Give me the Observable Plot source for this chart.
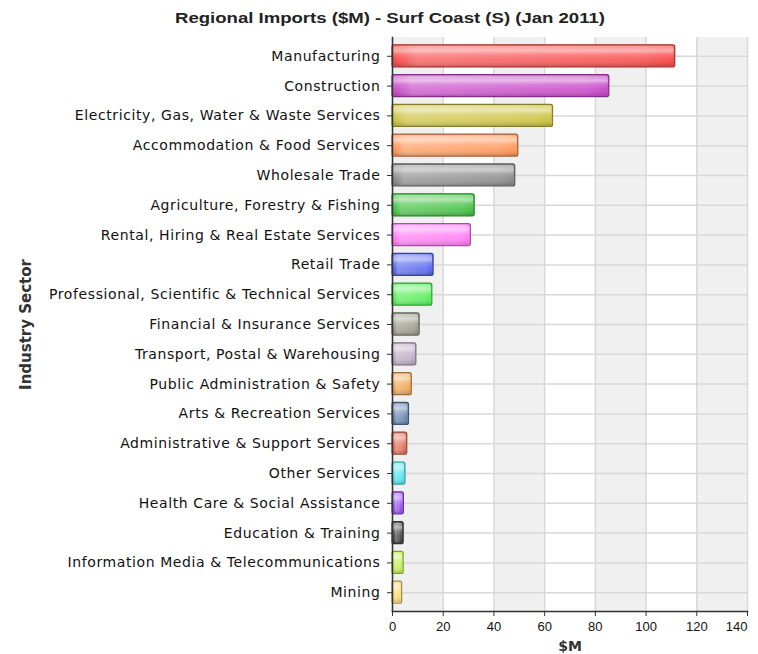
<!DOCTYPE html>
<html>
<head>
<meta charset="utf-8">
<script src="https://cdn.jsdelivr.net/npm/d3@7"></script>
<script src="https://cdn.jsdelivr.net/npm/@observablehq/plot@0.6"></script>
<style>
  html, body { margin: 0; padding: 0; background: #fff; }
  #title { height: 27px; width: 758px; position: relative; font-family: "Liberation Sans", Arial, sans-serif; font-weight: bold; font-size: 14px; color: #222; }
  #title span { position: absolute; left: 390px; top: 10px; white-space: nowrap; transform-origin: 0 0; }
  [aria-label="y-axis tick label"] { letter-spacing: 0.6px; }
  [aria-label="y-label"] { letter-spacing: 0.35px; }
</style>
</head>
<body>
<div id="title"><span id="titleText"></span></div>
<div id="chart"></div>
<script>
const titleText = "Regional Imports ($M) - Surf Coast (S) (Jan 2011)";
const xLabel = "$M";
const yLabel = "Industry Sector";

const sectors = [
  "Manufacturing",
  "Construction",
  "Electricity, Gas, Water & Waste Services",
  "Accommodation & Food Services",
  "Wholesale Trade",
  "Agriculture, Forestry & Fishing",
  "Rental, Hiring & Real Estate Services",
  "Retail Trade",
  "Professional, Scientific & Technical Services",
  "Financial & Insurance Services",
  "Transport, Postal & Warehousing",
  "Public Administration & Safety",
  "Arts & Recreation Services",
  "Administrative & Support Services",
  "Other Services",
  "Health Care & Social Assistance",
  "Education & Training",
  "Information Media & Telecommunications",
  "Mining"
];
const values = [111.5, 85.5, 63.3, 49.6, 48.4, 32.4, 30.9, 16.2, 15.7, 10.7, 9.4, 7.6, 6.5, 5.8, 5.1, 4.5, 4.4, 4.4, 3.8];
const colors = [
  "#f84848", "#c846c8", "#ccc23e", "#ff9456", "#888888", "#40c040", "#ff78f4",
  "#5566ee", "#55ee55", "#98988a", "#bcaac4", "#f0a454", "#6684b0", "#e0705a",
  "#55e4f0", "#9a55ee", "#484848", "#c4f055", "#f8da78"
];
const xTicks = [0, 20, 40, 60, 80, 100, 120];
const xLastTick = [140];
const bands = [[0, 20], [40, 60], [80, 100], [120, 140]];

const data = sectors.map((s, i) => ({sector: s, value: values[i], color: colors[i], stroke: d3.color(colors[i]).darker(1.2).formatHex()}));

const font = "DejaVu Sans, sans-serif";

const chart = Plot.plot({
  width: 758,
  height: 627,
  marginTop: 10,
  marginBottom: 43,
  marginLeft: 392,
  marginRight: 11,
  style: {fontFamily: font, fontSize: "14px", color: "#111", background: "#fff"},
  x: {domain: [0, 140], label: null},
  y: {domain: sectors, padding: 0.26, round: false, label: null},
  marks: [
    Plot.rectX(bands, {x1: d => d[0], x2: d => d[1], fill: "#f0f0f0"}),
    Plot.gridX(xTicks.concat(xLastTick), {stroke: "#d8d8d8", strokeOpacity: 1, strokeWidth: 1.5}),
    Plot.gridY({stroke: "#d8d8d8", strokeOpacity: 1, strokeWidth: 1.5}),
    Plot.barX(data, {y: "sector", x: "value", fill: "color", stroke: "stroke", strokeWidth: 1.2, rx: 2}),
    Plot.barX(data, {y: "sector", x: "value", fill: "url(#gloss)", insetLeft: 1, insetRight: 1, insetTop: 1, insetBottom: 1, rx: 2}),
    Plot.barX(data, {y: "sector", x: "value", fill: "url(#shine)", insetLeft: 3, insetRight: 3, insetTop: 1, insetBottom: 1, rx: 2}),
    Plot.axisX({ticks: xTicks, tickSize: 5, tickPadding: 5, fontSize: 13, fontFamily: "Liberation Sans, Arial, sans-serif", label: null, stroke: "#333"}),
    Plot.axisX({ticks: xLastTick, tickSize: 5, tickPadding: 5, fontSize: 13, fontFamily: "Liberation Sans, Arial, sans-serif", textAnchor: "end", label: null, stroke: "#333"}),
    Plot.axisY({tickSize: 5, tickPadding: 7, fontSize: 14, label: null, stroke: "#333"}),
    Plot.frame({anchor: "left", stroke: "#333", strokeWidth: 1.5}),
    Plot.frame({anchor: "bottom", stroke: "#333", strokeWidth: 1.5}),
    Plot.text([xLabel], {frameAnchor: "bottom", dy: 39, fontWeight: "bold", fontSize: 14, fill: "#333"}),
    Plot.text([yLabel], {frameAnchor: "left", dx: -366, rotate: -90, textAnchor: "middle", fontWeight: "bold", fontSize: 15, fill: "#333", ariaLabel: "y-label"})
  ]
});

// gradient definitions for glossy bars
const svg = d3.select(chart);
const defs = svg.insert("defs", ":first-child");
const g1 = defs.append("linearGradient").attr("id", "gloss").attr("x1", 0).attr("y1", 0).attr("x2", 0).attr("y2", 1);
[[0, "#fff", 0.35], [0.25, "#fff", 0.55], [0.45, "#fff", 0.2], [0.7, "#fff", 0.05], [1, "#000", 0.18]].forEach(([o, c, a]) =>
  g1.append("stop").attr("offset", o).attr("stop-color", c).attr("stop-opacity", a));
const g2 = defs.append("linearGradient").attr("id", "shine").attr("x1", 0).attr("y1", 0).attr("x2", 1).attr("y2", 0);
[[0, "#fff", 0.0], [0.08, "#fff", 0.25], [0.9, "#fff", 0.1], [1, "#fff", 0.0]].forEach(([o, c, a]) =>
  g2.append("stop").attr("offset", o).attr("stop-color", c).attr("stop-opacity", a));

document.getElementById("chart").appendChild(chart);

// title: stretched to the reference's width (175..605)
const t = document.getElementById("titleText");
t.textContent = titleText;
const w = t.getBoundingClientRect().width;
const sx = 430 / w;
t.style.left = "175px";
t.style.transform = `scaleX(${sx})`;
</script>
</body>
</html>
